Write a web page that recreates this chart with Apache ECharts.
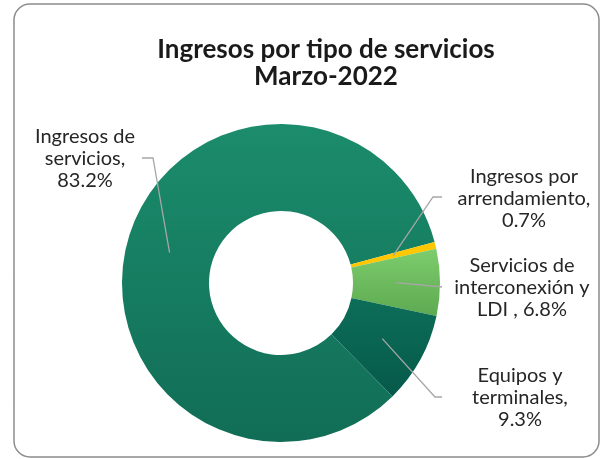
<!DOCTYPE html>
<html><head><meta charset="utf-8">
<script src="https://cdn.jsdelivr.net/npm/echarts@6/dist/echarts.min.js"></script>
<style>html,body{margin:0;padding:0;background:#fff}#c{width:601px;height:459px}</style>
</head><body><div id="c"></div>
<script>
// ---- data ----
const categories = ['Ingresos de servicios', 'Ingresos por arrendamiento', 'Servicios de interconexión y LDI ', 'Equipos y terminales'];
const values = [83.2, 0.7, 6.8, 9.3];
const labelTemplates = ['Ingresos de\nservicios,\n{v}%', 'Ingresos por\narrendamiento,\n{v}%', 'Servicios de\ninterconexión y\nLDI , {v}%', 'Equipos y\nterminales,\n{v}%'];
const titleLines = ['Ingresos por tipo de servicios', 'Marzo-2022'];

// ---- layout / style ----
const CX = 281, CY = 283, R0 = 72, R1 = 159;
const labelPos = [[85, 159], [524, 199], [522, 288], [520, 398]];
const elbow = [[153, 158], [433, 197], [442, 287], [435, 397]];
const lineEnd = [[142, 158], [442, 197], [442, 287], [442, 397]];
const grad = (a, b) => new echarts.graphic.LinearGradient(0, 0, 0, 1, [{offset: 0, color: a}, {offset: 1, color: b}]);
const colors = [grad('#1b8c6c', '#116d56'), '#ffc700', grad('#7dcc6d', '#5daa50'), grad('#0c6e58', '#06594a')];

const pieBase = {
  type: 'pie',
  center: [CX, CY],
  radius: [R0, R1],
  startAngle: -45.5,
  clockwise: true,
  avoidLabelOverlap: false,
  emphasis: {disabled: true}
};

const chart = echarts.init(document.getElementById('c'));
chart.setOption({
  backgroundColor: '#fff',
  animation: false,
  title: {
    text: titleLines.join('\n'),
    left: 321, top: 31, textAlign: 'center',
    textStyle: {fontFamily: 'Lato', fontWeight: 'bold', fontSize: 26, lineHeight: 27, color: '#1a1a1a'}
  },
  graphic: [{
    type: 'rect', z: -1, silent: true,
    shape: {x: 14, y: 4, width: 585, height: 453, r: 16},
    style: {fill: 'none', stroke: '#8c8c8c', lineWidth: 1.5}
  }],
  series: [
    Object.assign({}, pieBase, {
      z: 2,
      data: categories.map((n, i) => ({name: n, value: values[i], itemStyle: {color: colors[i]}})),
      label: {show: false},
      labelLine: {show: false}
    }),
    Object.assign({}, pieBase, {
      z: 5,
      silent: true,
      data: categories.map((n, i) => ({name: n, value: values[i], itemStyle: {color: 'rgba(0,0,0,0)'}})),
      label: {
        show: true, position: 'outside',
        formatter: p => labelTemplates[p.dataIndex].replace('{v}', values[p.dataIndex].toFixed(1)),
        fontFamily: 'Lato', fontSize: 20, lineHeight: 22, color: '#262626', align: 'center'
      },
      labelLine: {show: true, length: 10, length2: 10, lineStyle: {color: '#a6a6a6', width: 1.3}},
      labelLayout: function (p) {
        const i = p.dataIndex;
        let start = elbow[i];
        if (p.labelLinePoints && p.labelLinePoints[0]) {
          const q = p.labelLinePoints[0];
          const k = ((R0 + R1) / 2) / R1;
          start = [CX + (q[0] - CX) * k, CY + (q[1] - CY) * k];
        }
        return {
          x: labelPos[i][0], y: labelPos[i][1], align: 'center', verticalAlign: 'middle',
          labelLinePoints: [start, elbow[i], lineEnd[i]]
        };
      }
    })
  ]
});
</script></body></html>
